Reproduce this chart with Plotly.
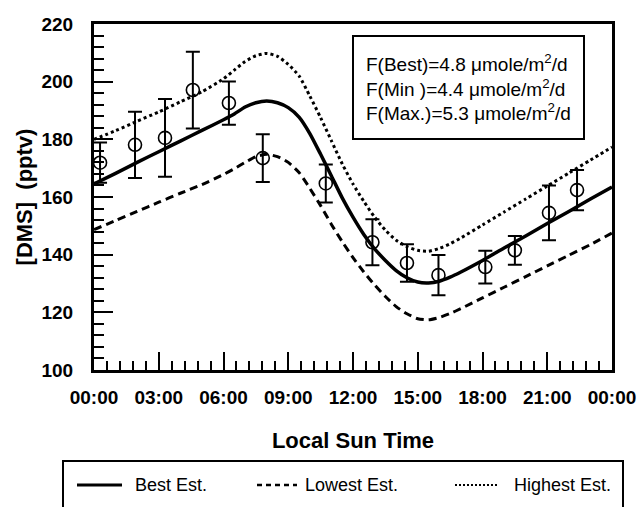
import plotly.graph_objects as go

# ---------------- data ----------------
obs_hour = [0.28, 1.9, 3.29, 4.58, 6.25, 7.82, 10.74, 12.9, 14.5, 15.96, 18.13, 19.5, 21.08, 22.38]
obs_dms = [171.9, 178.1, 180.5, 197.1, 192.6, 173.5, 164.7, 144.3, 137.1, 132.9, 135.7, 141.5, 154.5, 162.4]
obs_err = [7.0, 11.5, 13.5, 13.3, 7.5, 8.3, 6.6, 8.0, 6.5, 7.0, 5.7, 5.0, 9.5, 7.0]

model_hour = [0, 1, 2, 3, 4, 5, 6, 6.5, 7, 7.5, 8, 8.5, 9, 9.5, 10, 10.5, 11, 11.5, 12, 12.5,
              13, 13.5, 14, 14.5, 15, 15.5, 16, 16.5, 17, 18, 19, 20, 21, 22, 23, 24]
best_est = [164.5, 168.2, 172.0, 175.7, 179.4, 183.1, 186.8, 188.8, 191.2, 192.7, 193.3, 192.7,
            191.0, 187.7, 182.0, 174.8, 167.3, 159.7, 153.0, 147.0, 142.0, 138.0, 134.5, 132.0,
            130.5, 130.2, 130.8, 132.2, 134.0, 138.0, 142.3, 146.5, 150.8, 155.0, 159.3, 163.5]
lowest_est = [148.7, 151.8, 155.0, 158.2, 161.3, 164.3, 167.8, 169.8, 172.0, 174.0, 174.8, 174.0,
              172.0, 168.5, 163.0, 157.0, 150.5, 144.5, 139.0, 134.0, 129.5, 125.5, 122.0, 119.5,
              117.8, 117.4, 118.2, 119.6, 121.3, 125.0, 128.7, 132.4, 136.1, 139.8, 143.5, 147.5]
highest_est = [180.0, 183.0, 186.3, 189.5, 193.0, 196.5, 201.0, 204.0, 207.0, 209.0, 209.8, 208.8,
               206.0, 202.0, 195.0, 187.5, 179.5, 171.5, 164.5, 158.5, 153.0, 148.5, 145.0, 142.8,
               141.5, 141.2, 142.2, 143.8, 145.8, 150.3, 154.8, 159.3, 163.8, 168.3, 172.8, 177.3]

x_tickvals = [0, 3, 6, 9, 12, 15, 18, 21, 24]
x_ticktext = ["00:00", "03:00", "06:00", "09:00", "12:00", "15:00", "18:00", "21:00", "00:00"]
y_tickvals = [100, 120, 140, 160, 180, 200, 220]

flux_lines = ["F(Best)=4.8 μmole/m<sup>2</sup>/d",
              "F(Min )=4.4 μmole/m<sup>2</sup>/d",
              "F(Max.)=5.3 μmole/m<sup>2</sup>/d"]
legend_names = ["Best Est.", "Lowest Est.", "Highest Est."]

# ---------------- layout geometry (pixels) ----------------
W, H = 641, 507
L, R, T, B = 94, 29, 24, 137
PW, PH = W - L - R, H - T - B


def px(x):
    return (x - L) / PW


def py(y):
    return (H - B - y) / PH


FONT = "Liberation Sans, Arial, sans-serif"

fig = go.Figure()

fig.add_trace(go.Scatter(x=model_hour, y=best_est, mode="lines", name=legend_names[0],
                         line=dict(color="black", width=3.5, shape="spline", smoothing=0.6)))
fig.add_trace(go.Scatter(x=model_hour, y=lowest_est, mode="lines", name=legend_names[1],
                         line=dict(color="black", width=3, dash="8px,5px", shape="spline", smoothing=0.6)))
fig.add_trace(go.Scatter(x=model_hour, y=highest_est, mode="lines", name=legend_names[2],
                         line=dict(color="black", width=3, dash="3px,3px", shape="spline", smoothing=0.6)))
fig.add_trace(go.Scatter(x=obs_hour, y=obs_dms, mode="markers", name="Observed",
                         marker=dict(symbol="circle-open", size=13, color="black", line=dict(width=1.6)),
                         error_y=dict(type="data", array=obs_err, visible=True, color="black",
                                      thickness=2, width=7)))

axis_common = dict(showline=True, linecolor="black", linewidth=3, mirror=True,
                   ticks="inside", tickcolor="black", tickwidth=2, showgrid=False, zeroline=False,
                   tickfont=dict(family=FONT, size=19, color="black", weight="bold"))

fig.update_xaxes(range=[0, 24], tickvals=x_tickvals, ticktext=x_ticktext, ticklen=18,
                 minor=dict(dtick=0.6, tick0=0, ticks="inside", ticklen=9, tickwidth=1.5, tickcolor="black"),
                 ticklabelstandoff=8,
                 title=dict(text="Local Sun Time", standoff=26,
                            font=dict(family=FONT, size=22, color="black", weight="bold")),
                 **axis_common)
fig.update_yaxes(range=[100, 220], tickvals=y_tickvals, ticklen=19,
                 minor=dict(dtick=4, tick0=100, ticks="inside", ticklen=10, tickwidth=1.5, tickcolor="black"),
                 ticklabelstandoff=14,
                 title=dict(text="[DMS]  (pptv)", standoff=3,
                            font=dict(family=FONT, size=22, color="black", weight="bold")),
                 **axis_common)

shapes = []
# flux text box
shapes.append(dict(type="rect", xref="paper", yref="paper", x0=px(353), x1=px(584), y0=py(139), y1=py(36),
                   line=dict(color="black", width=2), fillcolor="white", layer="above"))
# bottom legend box
shapes.append(dict(type="rect", xref="paper", yref="paper", x0=px(63), x1=px(623), y0=py(540), y1=py(461),
                   line=dict(color="black", width=2), fillcolor="rgba(0,0,0,0)", layer="above"))
ly = py(485)
shapes.append(dict(type="line", xref="paper", yref="paper", x0=px(77), x1=px(122), y0=ly, y1=ly,
                   line=dict(color="black", width=3)))
shapes.append(dict(type="line", xref="paper", yref="paper", x0=px(257), x1=px(297), y0=ly, y1=ly,
                   line=dict(color="black", width=2.5, dash="5px,4px")))
shapes.append(dict(type="line", xref="paper", yref="paper", x0=px(455), x1=px(498), y0=ly, y1=ly,
                   line=dict(color="black", width=2, dash="2px,2px")))

annotations = [
    dict(xref="paper", yref="paper", x=px(364), y=py(87), xanchor="left", yanchor="middle",
         text="<br>".join(flux_lines), showarrow=False, align="left",
         font=dict(family=FONT, size=19, color="black")),
]
for name, xs in zip(legend_names, [133, 303, 512]):
    annotations.append(dict(xref="paper", yref="paper", x=px(xs), y=ly, xanchor="left", yanchor="middle",
                            text=name, showarrow=False,
                            font=dict(family=FONT, size=18, color="black")))

fig.update_layout(width=W, height=H, margin=dict(l=L, r=R, t=T, b=B, autoexpand=False),
                  plot_bgcolor="white", paper_bgcolor="white", showlegend=False,
                  shapes=shapes, annotations=annotations)

fig.write_html("out.html")
